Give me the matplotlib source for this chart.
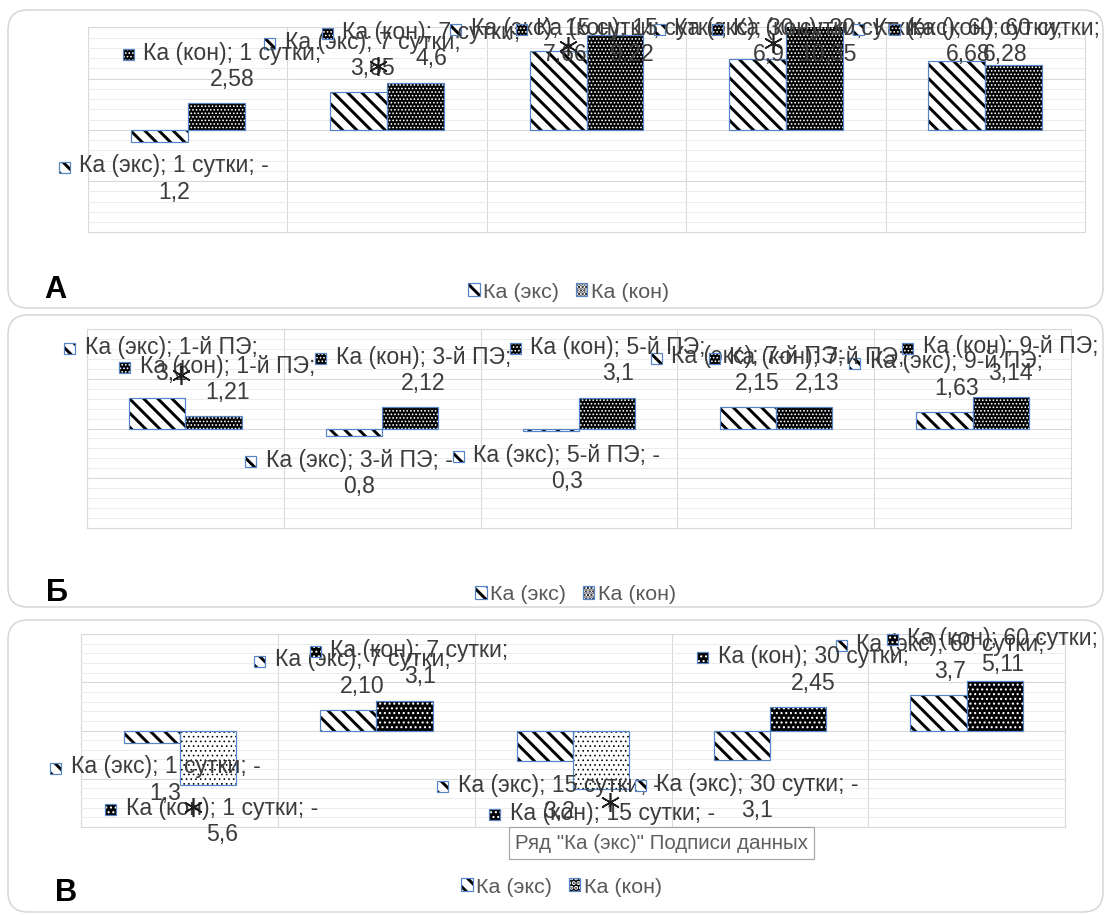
import numpy as np
import matplotlib
matplotlib.use("Agg")
import matplotlib.pyplot as plt
from matplotlib.patches import Rectangle, FancyBboxPatch
from matplotlib.offsetbox import DrawingArea, AnnotationBbox
from matplotlib.legend_handler import HandlerTuple
from matplotlib.transforms import offset_copy, IdentityTransform

plt.rcParams["font.family"] = ["Liberation Sans", "DejaVu Sans"]
plt.rcParams["hatch.linewidth"] = 2.5

# ---------------- data ----------------
series = ["Ка (экс)", "Ка (кон)"]
days = ["1 сутки", "7 сутки", "15 сутки", "30 сутки", "60 сутки"]
stages = ["1-й ПЭ", "3-й ПЭ", "5-й ПЭ", "7-й ПЭ", "9-й ПЭ"]

a_exp = ["-1,2", "3,65", "7,66", "6,9", "6,68"]
a_con = ["2,58", "4,6", "9,22", "10,35", "6,28"]

b_exp = ["3,1", "-0,8", "-0,3", "2,15", "1,63"]
b_con = ["1,21", "2,12", "3,1", "2,13", "3,14"]

c_exp = ["-1,3", "2,10", "-3,2", "-3,1", "3,7"]
c_con = ["-5,6", "3,1", "-6,1", "2,45", "5,11"]

panel_letters = ["А", "Б", "В"]
tooltip_text = 'Ряд "Ка (экс)" Подписи данных'

# ---------------- layout (pixels) ----------------
DPI = 85
W, H = 1107, 915


def pt(px):
    return px * 72.0 / DPI


def num(s):
    return float(s.replace(",", "."))


frames = [(8, 10, 1103, 308), (8, 315, 1103, 607), (8, 620, 1103, 912)]
plots = [(88, 27.3, 1085, 232.3), (87, 329, 1071, 528), (81.4, 634, 1065, 827)]
letter_xy = [(55, 290), (57, 593), (66, 893)]
legend_xy = [(568.5, 292), (575.5, 595), (561.5, 887)]
label_dx_exp = [[15, 14, 7, 11, 11], [14, 5, 16, 10, 12], [14, 14, 14, 15, 12]]
label_dx_con = [[16, 16, 17, 14, -9], [14, 13, 11, 13, 10], [14, 15, 11, 15, 8]]
# (series index, category index, dx, dy) in pixels from the bar end
star_marks = [[(0, 1, 19, 26), (0, 2, 10, 5), (0, 3, 16, 16)],
              [(0, 0, 24, 23)],
              [(1, 0, -15, -22), (1, 2, 9, -13)]]
LABEL_DY = 37
BAR_W = 0.2857

BLUE = "#5585c8"
GRID = "#d9d9d9"
LABEL_C = "#3c3c3c"
LEGEND_C = "#595959"
FS_LABEL = pt(23)
FS_LEGEND = pt(21.5)

STRIPES = dict(face="white", ink="black", hatch="\\\\", hlw=2.5)
DENSE = dict(face="black", ink="white", hatch="....", hlw=0.9)
DOTTED = dict(face="black", ink="white", hatch="...", hlw=1.1)
DOTTED_INV = dict(face="white", ink="black", hatch="...", hlw=0.7)


def styled_rect(xy, w, h, st):
    with plt.rc_context({"hatch.linewidth": st["hlw"]}):
        r = Rectangle(xy, w, h, facecolor=st["face"], edgecolor=st["ink"],
                      hatch=st["hatch"], linewidth=0)
    if hasattr(r, "set_hatch_linewidth"):
        r.set_hatch_linewidth(st["hlw"])
    return r


def key_box(st, size_px=11):
    s = pt(size_px)
    da = DrawingArea(s, s, 0, 0)
    da.add_artist(styled_rect((0, 0), s, s, st))
    da.add_artist(Rectangle((0, 0), s, s, fill=False, edgecolor=BLUE,
                            linewidth=pt(1.2)))
    return da


fig = plt.figure(figsize=(W / DPI, H / DPI), dpi=DPI)
fig.patch.set_facecolor("white")

panel_data = [
    (days, a_exp, a_con, DENSE, DENSE, DENSE),
    (stages, b_exp, b_con, DENSE, DENSE, DENSE),
    (days, c_exp, c_con, DOTTED, DOTTED_INV, DOTTED),
]

for i, (cats, exp_vals, con_vals, con_pos, con_neg, con_key) in enumerate(panel_data):
    x0, y0, x1, y1 = frames[i]
    frame = FancyBboxPatch((x0, H - y1), x1 - x0, y1 - y0,
                           boxstyle="round,pad=0,rounding_size=20",
                           transform=IdentityTransform(), facecolor="white",
                           edgecolor="#d5d5d5", linewidth=pt(1.5), zorder=-10)
    fig.add_artist(frame)

    l, t, r, b = plots[i]
    ax = fig.add_axes([l / W, 1 - b / H, (r - l) / W, (b - t) / H])
    ax.set_facecolor("none")
    ax.set_xlim(-0.5, 4.5)
    ax.set_ylim(-10, 10)
    ax.set_yticks([-10, -5, 0, 5, 10])
    ax.set_yticks([v for v in range(-10, 11) if v % 5], minor=True)
    ax.set_xticks(np.arange(-0.5, 5.0, 1.0))
    ax.grid(True, which="minor", axis="y", color="#ececec", linewidth=pt(1))
    ax.grid(True, which="major", color=GRID, linewidth=pt(1.1))
    ax.tick_params(which="both", length=0, labelleft=False, labelbottom=False)
    for sp in ax.spines.values():
        sp.set_color(GRID)
        sp.set_linewidth(pt(1.1))
        sp.set_zorder(0.5)
    ax.set_axisbelow(True)

    xs = np.arange(len(cats))
    sets = [
        (exp_vals, xs - BAR_W / 2, lambda v: STRIPES, STRIPES, label_dx_exp[i], series[0]),
        (con_vals, xs + BAR_W / 2, (lambda v, p=con_pos, n=con_neg: n if v < 0 else p),
         con_key, label_dx_con[i], series[1]),
    ]
    positions = []
    for vals, xpos, style_of, key_style, dxs, sname in sets:
        positions.append(xpos)
        for x, s, cat, dx in zip(xpos, vals, cats, dxs):
            v = num(s)
            st = style_of(v)
            with plt.rc_context({"hatch.linewidth": st["hlw"]}):
                bars = ax.bar(x, v, BAR_W, color=st["face"], edgecolor=st["ink"],
                              hatch=st["hatch"], linewidth=0, zorder=2)
            for p in bars:
                if hasattr(p, "set_hatch_linewidth"):
                    p.set_hatch_linewidth(st["hlw"])
            ax.bar(x, v, BAR_W, fill=False, edgecolor=BLUE, linewidth=pt(1.2), zorder=3)

            # data label: "series; category; value" with legend key
            line1 = f"{sname}; {cat};" + (" -" if v < 0 else "")
            line2 = s.lstrip("-")
            _, ay = ax.transData.transform((x, v))
            cy = ay + (-LABEL_DY if v < 0 else LABEL_DY)
            cy = min(cy, H - (y0 + 31.5))
            txt = ax.annotate(f"{line1}\n{line2}", xy=(x, v), xytext=(dx, cy - ay),
                              textcoords="offset pixels", ha="center", va="center",
                              multialignment="center", fontsize=FS_LABEL,
                              color=LABEL_C, linespacing=1.2,
                              annotation_clip=False, zorder=5)
            kb = AnnotationBbox(key_box(key_style), xy=(0, 0.74), xycoords=txt,
                                xybox=(-15, 0), boxcoords="offset pixels",
                                frameon=False, pad=0, box_alignment=(0.5, 0.5),
                                annotation_clip=False, zorder=5)
            ax.add_artist(kb)

    # significance marks
    vals_by_series = [exp_vals, con_vals]
    for si, ci, dx, dy in star_marks[i]:
        tr = offset_copy(ax.transData, fig=fig, x=dx, y=dy, units="dots")
        ax.plot([positions[si][ci]], [num(vals_by_series[si][ci])], marker=(6, 2, 0),
                markersize=pt(19), markeredgewidth=pt(1.6), color="#1e1e1e",
                transform=tr, clip_on=False, zorder=7)

    # legend
    h_exp = (styled_rect((0, 0), 1, 1, STRIPES),
             Rectangle((0, 0), 1, 1, fill=False, edgecolor=BLUE, linewidth=pt(1.2)))
    h_con = (styled_rect((0, 0), 1, 1, con_key),
             Rectangle((0, 0), 1, 1, fill=False, edgecolor=BLUE, linewidth=pt(1.2)))
    lx, ly = legend_xy[i]
    fig.legend([h_exp, h_con], series, handler_map={tuple: HandlerTuple(ndivide=1, pad=0)},
               loc="center", bbox_to_anchor=(lx / W, 1 - ly / H), ncol=2,
               frameon=False, fontsize=FS_LEGEND, labelcolor=LEGEND_C,
               handlelength=0.55, handleheight=0.55, handletextpad=0.15,
               columnspacing=0.75, borderpad=0, borderaxespad=0)

    # panel letter
    px_, py_ = letter_xy[i]
    fig.text(px_ / W, 1 - py_ / H, panel_letters[i], fontsize=pt(30.7),
             fontweight="bold", ha="center", va="center", color="black")

# hover tooltip over the last panel
fig.text(515 / W, 1 - 843 / H, tooltip_text, ha="left", va="center",
         fontsize=pt(20.5), color="#5e5e5e", zorder=20,
         bbox=dict(boxstyle="square,pad=0.3", facecolor="white",
                   edgecolor="#a6a6a6", linewidth=pt(1.2)))

fig.savefig("out.png", dpi=DPI, facecolor="white")
